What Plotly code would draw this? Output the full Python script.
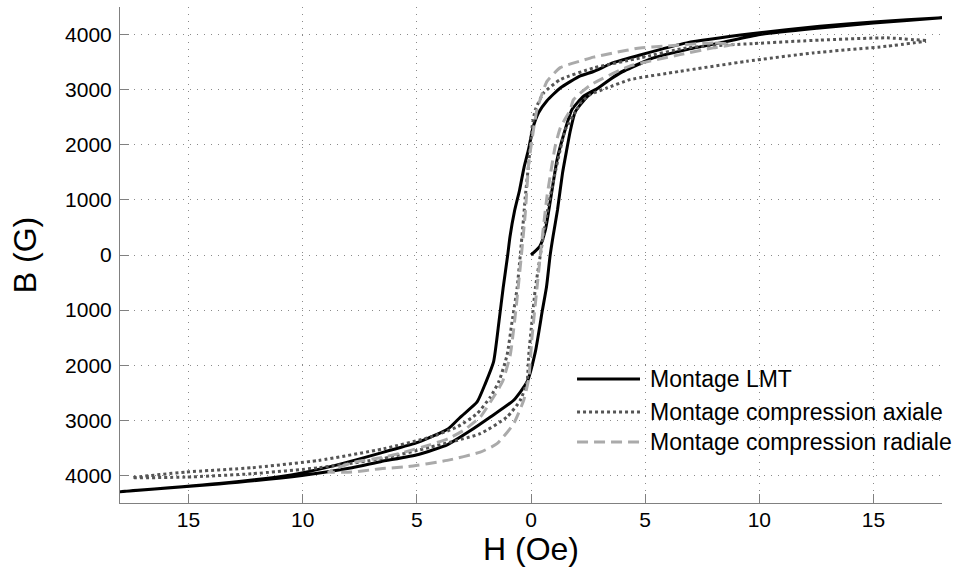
import plotly.graph_objects as go

# ---- data ----
lmt_H = [0, 0.38, 0.63, 1.14, 1.43, 1.79, 2.3, 2.9, 3.9, 5.36, 6.82, 8.28, 10.03, 12.4, 15, 18,
         15, 12.65, 9.73, 6.82, 4.78, 3.61, 2.74, 2.16, 1.28, 0.70, 0.33, 0.08, -0.10, -0.30, -0.50,
         -0.72, -0.92, -1.02, -1.22, -1.40, -1.64, -2.0, -2.36, -3.09, -3.62, -4.93, -6.45, -8.57,
         -10.5, -13.67, -18,
         -13.67, -10.03, -7.84, -6.59, -4.93, -3.65, -2.7, -1.78, -0.76, -0.17, 0.19, 0.50, 0.68,
         0.84, 0.97, 1.16, 1.38, 1.56, 1.72, 1.94, 2.45, 3.17, 3.9, 4.78, 5.36, 6.82, 8.28, 10.03,
         12.4, 15, 18]
lmt_B = [0, 151, 455, 1727, 2182, 2636, 2880, 3020, 3310, 3576, 3727, 3849, 4000, 4110, 4210, 4305,
         4230, 4151, 4018, 3849, 3630, 3490, 3330, 3250, 3030, 2800, 2580, 2300, 1930, 1600, 1180,
         800, 330, 0, -600, -1200, -1940, -2333, -2667, -2940, -3151, -3394, -3576, -3818,
         -3990, -4145, -4295,
         -4155, -4000, -3860, -3750, -3620, -3440, -3200, -2940, -2636, -2300, -1758, -1000, -576,
         0, 350, 818, 1485, 1900, 2250, 2600, 2870, 3100, 3300, 3470, 3576, 3727, 3849, 4000,
         4110, 4210, 4305]

axi_H = [17.3, 15.57, 12.65, 9.73, 6.82, 4.78, 2.74, 1.28, 0.55, 0.19, 0.04, -0.10, -0.25, -0.32,
         -0.47, -0.61, -0.83, -1.05, -1.40, -1.78, -2.36, -3.24, -4.40, -6.45, -9.30, -12.22,
         -15.13, -17.46,
         -15.13, -12.22, -9.30, -6.45, -4.40, -2.22, -1.05, -0.47, -0.17, -0.10, 0.04, 0.19, 0.41,
         0.70, 0.99, 1.28, 1.50, 2.01, 2.16, 2.59, 3.32, 4.34, 6.53, 9.45, 12.36, 15.57, 17.3]
axi_B = [3890, 3940, 3900, 3836, 3758, 3576, 3394, 3182, 2939, 2636, 2300, 1667, 1061, 697,
         0, -606, -1212, -1818, -2290, -2576, -2879, -3121, -3303, -3515, -3727, -3860,
         -3939, -4040,
         -4030, -3969, -3860, -3690, -3485, -3242, -2939, -2636, -2290, -1818, -1212, -606, 0,
         758, 1364, 1909, 2273, 2636, 2758, 2909, 3030, 3182, 3333, 3515, 3667, 3787, 3878]

rad_H = [8.86, 7.98, 5.80, 4.78, 3.61, 2.74, 2.16, 1.28, 0.70, 0.55, 0.26, 0.11, -0.10, -0.25,
         -0.42, -0.64, -0.91, -1.25, -1.64, -2.22, -2.95, -3.62, -4.40, -5.66, -6.59, -7.84, -8.86,
         -7.84, -6.59, -5.40, -3.67, -2.22, -1.49, -0.76, -0.32, -0.10, 0.04, 0.26, 0.41, 0.70,
         1.06, 1.28, 1.72, 1.86, 2.59, 4.3, 6.53, 7.98, 8.86]
rad_B = [3818, 3849, 3788, 3758, 3667, 3590, 3520, 3400, 3150, 3000, 2636, 2273, 1667, 758,
         0, -909, -1818, -2300, -2576, -2939, -3182, -3330, -3440, -3590, -3680, -3770, -3935,
         -3939, -3878, -3840, -3727, -3576, -3424, -3061, -2636, -2242, -1515, -606, 0, 1061,
         1970, 2303, 2636, 2818, 3080, 3424, 3636, 3758, 3818]

series_names = ["Montage LMT", "Montage compression axiale", "Montage compression radiale"]

x_tickvals = [-15, -10, -5, 0, 5, 10, 15]
x_ticktext = ["15", "10", "5", "0", "5", "10", "15"]
y_tickvals = [-4000, -3000, -2000, -1000, 0, 1000, 2000, 3000, 4000]
y_ticktext = ["4000", "3000", "2000", "1000", "0", "1000", "2000", "3000", "4000"]

styles = [
    dict(color="#000000", width=3, dash="solid"),
    dict(color="#555555", width=3, dash="3px,3px"),
    dict(color="#aaaaaa", width=3, dash="11px,6px"),
]

FONT = "Liberation Sans, Arial, sans-serif"

fig = go.Figure()
for (hx, by), name, st in zip([(lmt_H, lmt_B), (axi_H, axi_B), (rad_H, rad_B)], series_names, styles):
    fig.add_trace(go.Scatter(x=hx, y=by, mode="lines", name=name, showlegend=False,
                             line=dict(color=st["color"], width=st["width"], dash=st["dash"],
                                       shape="spline", smoothing=0.5)))

# custom legend (line samples + labels), placed in paper coordinates
leg_y = [0.25, 0.1835, 0.123]
for name, st, yy in zip(series_names, styles, leg_y):
    fig.add_shape(type="line", xref="paper", yref="paper", x0=0.556, x1=0.6326, y0=yy, y1=yy,
                  line=dict(color=st["color"], width=st["width"], dash=st["dash"]))
    fig.add_annotation(xref="paper", yref="paper", x=0.6423, y=yy, text=name, showarrow=False,
                       xanchor="left", yanchor="middle", font=dict(family=FONT, size=23, color="#000"))

axis_common = dict(showline=True, linecolor="#808080", linewidth=1, ticks="inside", ticklen=9,
                   tickcolor="#808080", showgrid=True, gridcolor="#8a8a8a", gridwidth=1,
                   griddash="1px,6px", zeroline=False, mirror=False,
                   tickfont=dict(family=FONT, size=21, color="#000"))

fig.update_xaxes(range=[-18, 18], tickvals=x_tickvals, ticktext=x_ticktext,
                 title=dict(text="H (Oe)", font=dict(family=FONT, size=32, color="#000"), standoff=4),
                 ticklabelstandoff=-2, **axis_common)
fig.update_yaxes(range=[-4500, 4500], tickvals=y_tickvals, ticktext=y_ticktext,
                 title=dict(text="B (G)", font=dict(family=FONT, size=32, color="#000"), standoff=18),
                 ticklabelstandoff=3, **axis_common)

fig.update_layout(width=959, height=571, margin=dict(l=120, r=17, t=7, b=68),
                  plot_bgcolor="white", paper_bgcolor="white", showlegend=False,
                  font=dict(family=FONT))

fig.write_html("out.html", config={"displayModeBar": False},
               post_script="document.body.style.margin='0';")
